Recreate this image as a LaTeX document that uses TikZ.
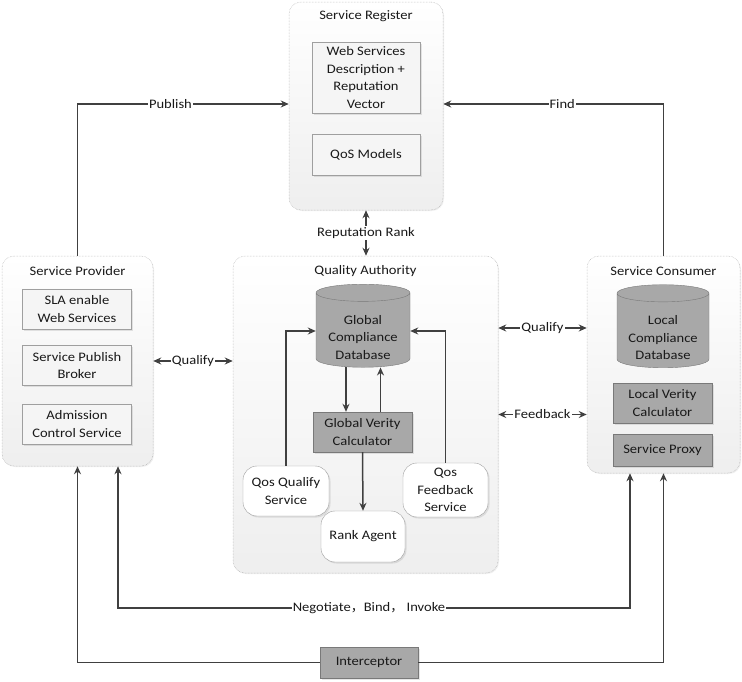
\documentclass[tikz,border=0pt]{standalone}
\usepackage{fontspec}
\setmainfont{Carlito}[FakeStretch=1.12]
\newfontfamily\cjk{Noto Sans CJK SC}
\usetikzlibrary{arrows.meta,shapes.geometric,shadows}

\tikzset{
  every node/.style={font=\fontsize{13}{17.6}\selectfont, text=black!90},
  container/.style={rounded corners=12pt, draw=gray!65, densely dotted, line width=0.5pt,
    top color=white, bottom color=gray!13,
    drop shadow={shadow xshift=1pt, shadow yshift=-1pt, opacity=0.12}},
  litebox/.style={draw=gray!75, fill=gray!8, align=center, inner sep=2pt,
    drop shadow={shadow xshift=1.5pt, shadow yshift=-1.5pt, opacity=0.2}},
  darkbox/.style={draw=gray!95!black, fill=gray!68, align=center, inner sep=2pt,
    drop shadow={shadow xshift=1.5pt, shadow yshift=-1.5pt, opacity=0.2}},
  softbox/.style={draw=gray!75, fill=white, rounded corners=14pt, align=center, inner sep=2pt,
    drop shadow={shadow xshift=1.5pt, shadow yshift=-1.5pt, opacity=0.2}},
  dbase/.style={cylinder, shape border rotate=90, aspect=0.24, draw=gray!95!black,
    fill=gray!68, align=center, inner sep=1pt},
  flow/.style={draw=black!75, line width=1.5pt, ->},
  tag/.style={fill=white, inner sep=1pt}
}

\begin{document}
\begin{tikzpicture}[x=1pt, y=-1pt, >={Stealth[length=8pt,width=7pt]}]
  \useasboundingbox (0,0) rectangle (742,681);

  % Service Register
  \node[container, minimum width=154pt, minimum height=208pt] (reg) at (366,106) {};
  \node (regt) at (366,16) {Service Register};
  \node[litebox, minimum width=108pt, minimum height=71pt] (wsd) at (366,77.5) {Web Services\\Description +\\Reputation\\Vector};
  \node[litebox, minimum width=108pt, minimum height=41pt] (qos) at (366,154.5) {QoS Models};

  % Service Provider
  \node[container, minimum width=151pt, minimum height=210pt] (sp) at (77.5,361) {};
  \node (spt) at (77.5,271) {Service Provider};
  \node[litebox, minimum width=109pt, minimum height=40pt] (sla) at (77,309) {SLA enable\\Web Services};
  \node[litebox, minimum width=109pt, minimum height=40pt] (spb) at (77,365.5) {Service Publish\\Broker};
  \node[litebox, minimum width=109pt, minimum height=40pt] (acs) at (77,424) {Admission\\Control Service};

  % Quality Authority
  \node[container, minimum width=265pt, minimum height=317pt] (qa) at (365.5,414.5) {};
  \node (qat) at (365.5,271) {Quality Authority};
  \node[dbase, minimum width=94pt, minimum height=78pt] (gcd) at (363,331) {\mbox{}\\[4pt]Global\\Compliance\\Database};
  \node[darkbox, minimum width=99pt, minimum height=40pt] (gvc) at (362.5,432) {Global Verity\\Calculator};
  \node[softbox, minimum width=86pt, minimum height=50pt] (qqs) at (286,491) {Qos Qualify\\Service};
  \node[softbox, minimum width=84pt, minimum height=51pt] (rank) at (363,536.5) {Rank Agent};
  \node[softbox, minimum width=85pt, minimum height=54pt] (qfs) at (445.5,490) {Qos\\Feedback\\Service};

  % Service Consumer
  \node[container, minimum width=153pt, minimum height=217pt] (sc) at (663.5,364.5) {};
  \node (sct) at (663.5,271) {Service Consumer};
  \node[dbase, minimum width=92pt, minimum height=83pt] (lcd) at (663,331.5) {\mbox{}\\[4pt]Local\\Compliance\\Database};
  \node[darkbox, minimum width=99pt, minimum height=40pt] (lvc) at (662.5,403) {Local Verity\\Calculator};
  \node[darkbox, minimum width=99pt, minimum height=32pt] (proxy) at (662.5,450) {Service Proxy};

  % bottom
  \node[darkbox, minimum width=98pt, minimum height=31pt] (icp) at (369,662.5) {Interceptor};
  \node[tag] (nego) at (369,608) {Negotiate{\cjk ，}Bind{\cjk ，} Invoke};

  % connectors
  \draw[flow] (sp.north) |- node[tag, pos=0.72] {Publish} ([yshift=2pt]reg.west);
  \draw[flow] (sc.north) |- node[tag, pos=0.73] {Find} ([yshift=2pt]reg.east);
  \draw[flow, <->] (reg.south) -- node[tag] {Reputation Rank} (reg.south |- qa.north);
  \draw[flow, <->] (sp.east) -- node[tag] {Qualify} (sp.east -| qa.west);
  \draw[flow, <->] ([yshift=86.5pt]qa.east) -- node[tag] {Qualify} ([yshift=86.5pt]qa.east -| sc.west);
  \draw[flow, <->] (qa.east) -- node[tag] {Feedback} (qa.east -| sc.west);

  \draw[flow] (qqs.north) |- (gcd.west);
  \draw[flow] (qfs.north) |- (gcd.east);
  \draw[flow] ([xshift=-17pt]gcd.south) -- ([xshift=-17pt]gcd.south |- gvc.north);
  \draw[flow] ([xshift=18pt]gvc.north) -- ([xshift=18pt]gvc.north |- gcd.south);
  \draw[flow] (gvc.south) -- (rank.north);

  \draw[flow] (nego) -| ([xshift=40.5pt]sp.south);
  \draw[flow] (nego) -| ([xshift=-33.5pt]sc.south);
  \draw[flow] (icp.west) -| (sp.south);
  \draw[flow] (icp.east) -| (sc.south);
\end{tikzpicture}
\end{document}
